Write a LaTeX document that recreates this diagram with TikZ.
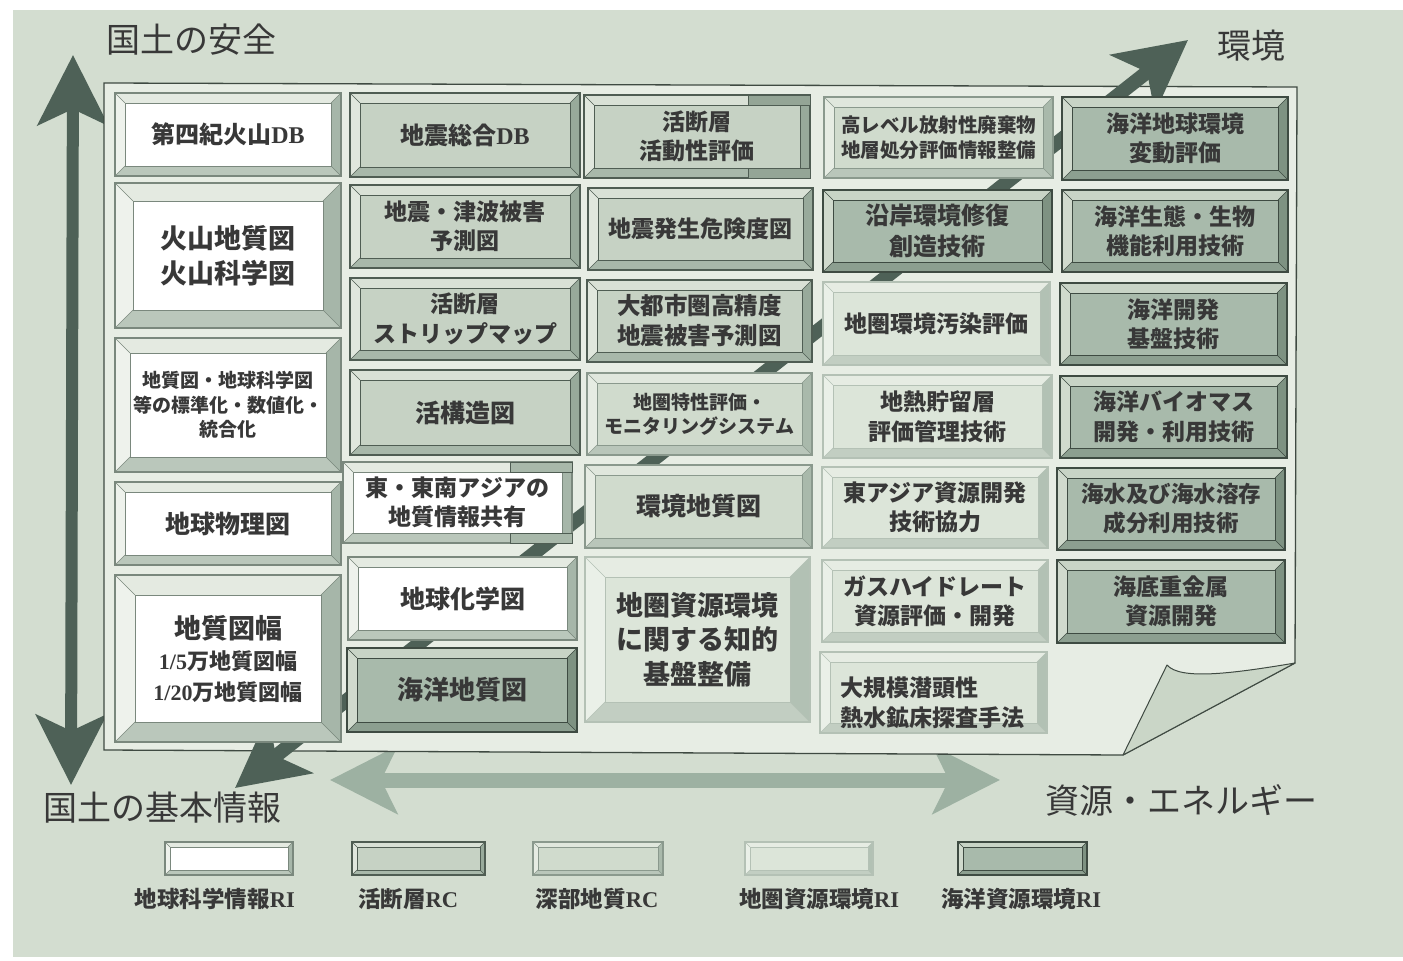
\documentclass[tikz,border=0pt]{standalone}
\usepackage{fontspec}
\usetikzlibrary{arrows.meta}
\newfontfamily\jp{Noto Sans CJK JP}
\newfontfamily\lat{Liberation Serif}
\definecolor{bgc}{HTML}{D3DDD0}
\definecolor{sheetc}{HTML}{E7EDE4}
\definecolor{flapc}{HTML}{CAD6C7}
\definecolor{darkarr}{HTML}{4E6157}
\definecolor{lightarr}{HTML}{9DB1A2}
\definecolor{textc}{HTML}{383838}
\definecolor{edgec}{HTML}{3F4A42}
% white: geoscience info RI
\definecolor{WFace}{HTML}{FFFFFF}\definecolor{WTop}{HTML}{E4EAE1}\definecolor{WLeft}{HTML}{EEF2EC}
\definecolor{WRight}{HTML}{A6B6A9}\definecolor{WBot}{HTML}{BAC7BB}\definecolor{WLine}{HTML}{7A887D}
% active fault RC
\definecolor{FFace}{HTML}{C6D2C4}\definecolor{FTop}{HTML}{D9E1D6}\definecolor{FLeft}{HTML}{E0E7DD}
\definecolor{FRight}{HTML}{98AA9B}\definecolor{FBot}{HTML}{A8B8AA}\definecolor{FLine}{HTML}{4F5D53}
% deep geology RC
\definecolor{DFace}{HTML}{D0DBCD}\definecolor{DTop}{HTML}{E0E7DD}\definecolor{DLeft}{HTML}{E6ECE3}
\definecolor{DRight}{HTML}{A9B9AB}\definecolor{DBot}{HTML}{B9C6BA}\definecolor{DLine}{HTML}{8A998D}
% geo-resources environment RI
\definecolor{GFace}{HTML}{DCE5D9}\definecolor{GTop}{HTML}{E6ECE3}\definecolor{GLeft}{HTML}{EAF0E8}
\definecolor{GRight}{HTML}{B2C1B4}\definecolor{GBot}{HTML}{C2CEC2}\definecolor{GLine}{HTML}{B4C1B5}
% marine resources environment RI
\definecolor{MFace}{HTML}{A8BAAB}\definecolor{MTop}{HTML}{C8D4C6}\definecolor{MLeft}{HTML}{D0DACD}
\definecolor{MRight}{HTML}{7E9282}\definecolor{MBot}{HTML}{8C9F90}\definecolor{MLine}{HTML}{3E4B42}
\tikzset{
  txt/.style={align=center, text=textc, inner sep=0pt},
  axlab/.style={text=textc, inner sep=0pt, font=\jp\fontsize{34}{40}\selectfont},
  leglab/.style={text=textc, inner sep=0pt, font=\jp\bfseries\fontsize{22.5}{26}\selectfont},
  dtip/.tip={Stealth[length=70pt,width=72pt,inset=18pt]},
  ltip/.tip={Stealth[length=67pt,width=67pt,inset=16pt]},
  vtip/.tip={Stealth[length=70pt,width=70pt,inset=16pt]}
}
\newcommand\bevbox[9]{%
  \fill[#2Bot] (#3,#4) rectangle (#5,#6);
  \fill[#2Top] (#3,#4) -- (#5,#4) -- ({#5-#7},{#4+#7}) -- ({#3+#7},{#4+#7}) -- cycle;
  \fill[#2Left] (#3,#4) -- ({#3+#7},{#4+#7}) -- ({#3+#7},{#6-#7}) -- (#3,#6) -- cycle;
  \fill[#2Right] (#5,#4) -- (#5,#6) -- ({#5-#7},{#6-#7}) -- ({#5-#7},{#4+#7}) -- cycle;
  \draw[#2Line, line width=.5pt] (#3,#4) -- ({#3+#7},{#4+#7}) (#5,#4) -- ({#5-#7},{#4+#7})
     (#3,#6) -- ({#3+#7},{#6-#7}) (#5,#6) -- ({#5-#7},{#6-#7});
  \draw[#2Line, fill=#2Face, line width=.8pt] ({#3+#7},{#4+#7}) rectangle ({#5-#7},{#6-#7});
  \draw[#2Line, line width=1.2pt] (#3,#4) rectangle (#5,#6);
  \node[txt, font=\jp\bfseries\fontsize{#8}{\fpeval{1.28*#8}}\selectfont] (#1) at ({(#3+#5)/2},{(#4+#6)/2}) {#9};
}
\begin{document}
\begin{tikzpicture}[x=1pt,y=-1pt]
\useasboundingbox (0,0) rectangle (1403,961);
\fill[white] (0,0) rectangle (1403,961);
\fill[bgc] (13,10) rectangle (1403,957);
% axis arrows behind sheet
\coordinate (vT) at (73,55);
\coordinate (vB) at (71,785);
\draw[darkarr, line width=12pt, vtip-vtip] (vT) -- (vB);
\coordinate (hL) at (330,780);
\coordinate (hR) at (1000,780);
\draw[lightarr, line width=15pt, ltip-ltip] (hL) -- (hR);
% sheet
\draw[edgec, fill=sheetc, line width=1.3pt, line join=miter]
  (104,83) -- (1297,87) -- (1295,663) -- (1123,755) -- (104,750) -- cycle;
% curled flap
\draw[edgec, fill=flapc, line width=1pt, line join=round]
  (1123,755) -- (1167,665) .. controls (1180,680) and (1230,674) .. (1295,663) -- cycle;
% diagonal arrow over sheet, under boxes
\coordinate (dS) at (235,788);
\coordinate (dE) at (1188,40);
\draw[darkarr, line width=14pt, dtip-dtip] (dS) -- (dE);
% column 1
\bevbox{b11}{W}{115}{93}{341}{176}{10}{24}{第四紀火山{\lat DB}}
\bevbox{b12}{W}{115}{183}{341}{328}{18}{27}{火山地質図\\火山科学図}
\bevbox{b13}{W}{115}{338}{341}{472}{15}{19}{地質図・地球科学図\\等の標準化・数値化・\\統合化}
\bevbox{b14}{W}{115}{482}{341}{565}{10}{25}{地球物理図}
\bevbox{b15}{W}{115}{575}{341}{742}{20}{27}{}
\node[txt, font=\jp\bfseries\fontsize{22}{31}\selectfont] (b15t) at (228,659)
  {{\fontsize{27}{31}\selectfont 地質図幅}\\
   {\lat 1/5}万地質図幅\\
   {\lat 1/20}万地質図幅};
% column 2
\bevbox{b21}{F}{350}{93}{580}{177}{10}{24}{地震総合{\lat DB}}
\bevbox{b22}{F}{350}{185}{580}{268}{10}{23}{地震・津波被害\\予測図}
\bevbox{b23}{F}{350}{278}{580}{360}{10}{23}{活断層\\ストリップマップ}
\bevbox{b24}{F}{350}{370}{580}{455}{10}{25}{活構造図}
\bevbox{b25}{W}{343}{462}{572}{543}{10}{23}{東・東南アジアの\\地質情報共有}
\bevbox{b26}{W}{348}{557}{577}{640}{10}{25}{地球化学図}
\bevbox{b27}{M}{347}{648}{577}{732}{10}{26}{海洋地質図}
% column 3
\bevbox{b31}{F}{584}{95}{810}{178}{10}{23}{活断層\\活動性評価}
\bevbox{b32}{F}{588}{188}{813}{270}{10}{23}{地震発生危険度図}
\bevbox{b33}{F}{587}{280}{812}{362}{10}{23.5}{大都市圏高精度\\地震被害予測図}
\bevbox{b34}{D}{587}{373}{812}{455}{10}{19}{地圏特性評価・\\モニタリングシステム}
\bevbox{b35}{D}{585}{465}{812}{548}{10}{25}{環境地質図}
\bevbox{b36}{G}{585}{557}{810}{722}{20}{27}{地圏資源環境\\に関する知的\\基盤整備}
% column 4
\bevbox{b41}{D}{824}{97}{1053}{178}{10}{19.5}{高レベル放射性廃棄物\\地層処分評価情報整備}
\bevbox{b42}{M}{823}{190}{1052}{272}{10}{24}{沿岸環境修復\\創造技術}
\bevbox{b43}{G}{823}{282}{1050}{365}{10}{23}{地圏環境汚染評価}
\bevbox{b44}{G}{823}{375}{1052}{458}{10}{23}{地熱貯留層\\評価管理技術}
\bevbox{b45}{G}{822}{467}{1048}{548}{10}{23}{東アジア資源開発\\技術協力}
\bevbox{b46}{G}{822}{560}{1048}{642}{10}{23}{ガスハイドレート\\資源評価・開発}
\bevbox{b47}{G}{820}{652}{1047}{733}{10}{23}{}
\node[txt, align=left, anchor=west, font=\jp\bfseries\fontsize{23}{30}\selectfont] (b47t) at (840,703)
  {大規模潜頭性\\熱水鉱床探査手法};
% column 5
\bevbox{b51}{M}{1062}{97}{1288}{180}{10}{23}{海洋地球環境\\変動評価}
\bevbox{b52}{M}{1062}{190}{1288}{272}{10}{23}{海洋生態・生物\\機能利用技術}
\bevbox{b53}{M}{1060}{283}{1287}{365}{10}{23}{海洋開発\\基盤技術}
\bevbox{b54}{M}{1060}{376}{1287}{458}{10}{23}{海洋バイオマス\\開発・利用技術}
\bevbox{b55}{M}{1057}{468}{1285}{550}{10}{22.5}{海水及び海水溶存\\成分利用技術}
\bevbox{b56}{M}{1057}{560}{1285}{643}{10}{23}{海底重金属\\資源開発}
% joint-project tabs
\draw[FLine, fill=MRight!70!FFace, line width=.8pt] (748,95) rectangle (810,105);
\draw[FLine, fill=MRight!70!FFace, line width=.8pt] (748,168) rectangle (810,178);
\draw[FLine, fill=FBot, line width=.8pt] (510,462) rectangle (572,472);
\draw[FLine, fill=FBot, line width=.8pt] (510,533) rectangle (572,543);
% axis labels
\node[axlab] (lsafe) at (191,40) {国土の安全};
\node[axlab] (lenv) at (1251,46) {環境};
\node[axlab] (lbasic) at (162,808) {国土の基本情報};
\node[axlab] (lres) at (1181,800) {資源・エネルギー};
% legend
\bevbox{L1}{W}{165}{842}{293}{875}{5}{10}{}
\bevbox{L2}{F}{352}{842}{485}{875}{5}{10}{}
\bevbox{L3}{D}{533}{842}{663}{875}{5}{10}{}
\bevbox{L4}{G}{745}{842}{873}{875}{5}{10}{}
\bevbox{L5}{M}{958}{842}{1087}{875}{5}{10}{}
\node[leglab] (t1) at (215,899) {地球科学情報{\lat RI}};
\node[leglab] (t2) at (408,899) {活断層{\lat RC}};
\node[leglab] (t3) at (597,899) {深部地質{\lat RC}};
\node[leglab] (t4) at (819,899) {地圏資源環境{\lat RI}};
\node[leglab] (t5) at (1021,899) {海洋資源環境{\lat RI}};
\end{tikzpicture}
\end{document}
